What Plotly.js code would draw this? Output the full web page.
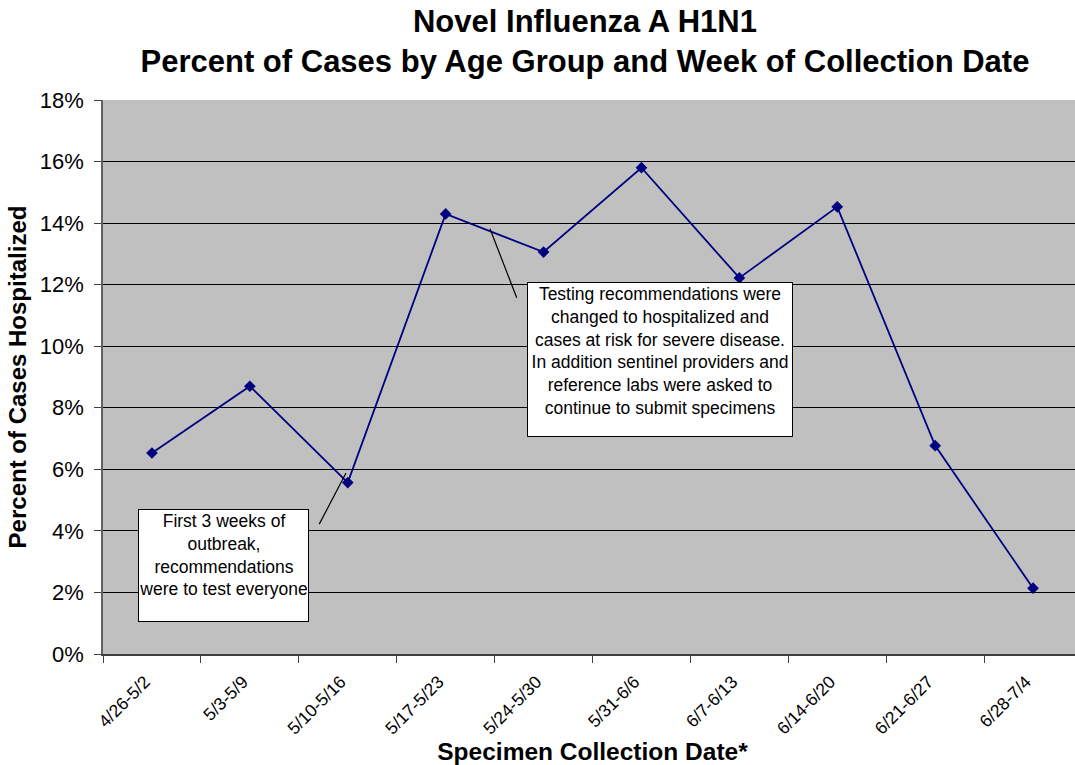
<!DOCTYPE html>
<html>
<head>
<meta charset="utf-8">
<script src="https://cdn.plot.ly/plotly-3.0.1.min.js"></script>
<style>
html, body { margin: 0; padding: 0; overflow: hidden; background: #fff; }
#chart { width: 1085px; height: 765px; }
</style>
</head>
<body>
<div id="chart"></div>
<script>
// Data
const weeks = ["4/26-5/2", "5/3-5/9", "5/10-5/16", "5/17-5/23", "5/24-5/30",
               "5/31-6/6", "6/7-6/13", "6/14-6/20", "6/21-6/27", "6/28-7/4"];
const pctHospitalized = [6.53, 8.70, 5.57, 14.30, 13.06, 15.80, 12.22, 14.53, 6.77, 2.14];
const titleText = "Novel Influenza A H1N1<br>Percent of Cases by Age Group and Week of Collection Date";
const xTitle = "Specimen Collection Date*";
const yTitle = "Percent of Cases Hospitalized";
const note1 = "First 3 weeks of<br>outbreak,<br>recommendations<br>were to test everyone";
const note2 = "Testing recommendations were<br>changed to hospitalized and<br>cases at risk for severe disease.<br>In addition sentinel providers and<br>reference labs were asked to<br>continue to submit specimens";

const FONT = "Arial, 'Liberation Sans', sans-serif";

const trace = {
  type: "scatter",
  mode: "lines+markers",
  x: weeks,
  y: pctHospitalized,
  line: { color: "#000080", width: 1.8 },
  marker: { symbol: "diamond", size: 9, color: "#000080" },
  hoverinfo: "x+y"
};

const layout = {
  width: 1085,
  height: 765,
  margin: { l: 103, r: 3, t: 100, b: 111 },
  paper_bgcolor: "#ffffff",
  plot_bgcolor: "#C0C0C0",
  showlegend: false,
  font: { family: FONT, color: "#000" },
  title: {
    text: titleText,
    font: { family: FONT, size: 31, color: "#000", weight: "bold" },
    xref: "paper", x: 0.4923, xanchor: "center",
    yref: "container", y: 1 - 32 / 765, yanchor: "top"
  },
  xaxis: {
    type: "category",
    range: [-0.5, 9.5],
    showgrid: false,
    zeroline: false,
    showline: true,
    linecolor: "#404040",
    linewidth: 1.5,
    ticks: "outside",
    tickson: "boundaries",
    ticklen: 7,
    tickcolor: "#404040",
    tickangle: -45,
    ticklabelstandoff: 9,
    ticklabelshift: -7,
    tickfont: { family: FONT, size: 17.5, color: "#000" },
    title: { text: xTitle, font: { family: FONT, size: 24.5, color: "#000", weight: "bold" }, standoff: 9 },
    fixedrange: true
  },
  yaxis: {
    range: [0, 18],
    dtick: 2,
    tick0: 0,
    ticksuffix: "%",
    showgrid: true,
    gridcolor: "#000000",
    gridwidth: 1,
    zeroline: false,
    showline: true,
    linecolor: "#606060",
    linewidth: 1.5,
    ticks: "outside",
    ticklen: 7,
    tickcolor: "#404040",
    ticklabelstandoff: 6,
    tickfont: { family: FONT, size: 22, color: "#000" },
    title: { text: yTitle, font: { family: FONT, size: 24, color: "#000", weight: "bold" }, standoff: 6 },
    fixedrange: true
  },
  shapes: [
    { type: "line", xref: "paper", yref: "paper", x0: 0.3953, y0: 0.7676, x1: 0.4226, y1: 0.6429,
      line: { color: "#000", width: 1.2 } },
    { type: "line", xref: "paper", yref: "paper", x0: 0.2482, y0: 0.3266, x1: 0.2209, y1: 0.2344,
      line: { color: "#000", width: 1.2 } }
  ],
  annotations: [
    { xref: "paper", yref: "paper", x: 0.0361, y: 0.2621, xanchor: "left", yanchor: "top",
      text: note1, showarrow: false, align: "center", valign: "top",
      width: 167, height: 109, bgcolor: "#ffffff", bordercolor: "#000", borderwidth: 1, borderpad: 1,
      font: { family: FONT, size: 17.5, color: "#000" } },
    { xref: "paper", yref: "paper", x: 0.4328, y: 0.6711, xanchor: "left", yanchor: "top",
      text: note2, showarrow: false, align: "center", valign: "top",
      width: 262, height: 151, bgcolor: "#ffffff", bordercolor: "#000", borderwidth: 1, borderpad: 1,
      font: { family: FONT, size: 17.5, color: "#000" } }
  ]
};

Plotly.newPlot("chart", [trace], layout, { displayModeBar: false, staticPlot: false });
</script>
</body>
</html>
